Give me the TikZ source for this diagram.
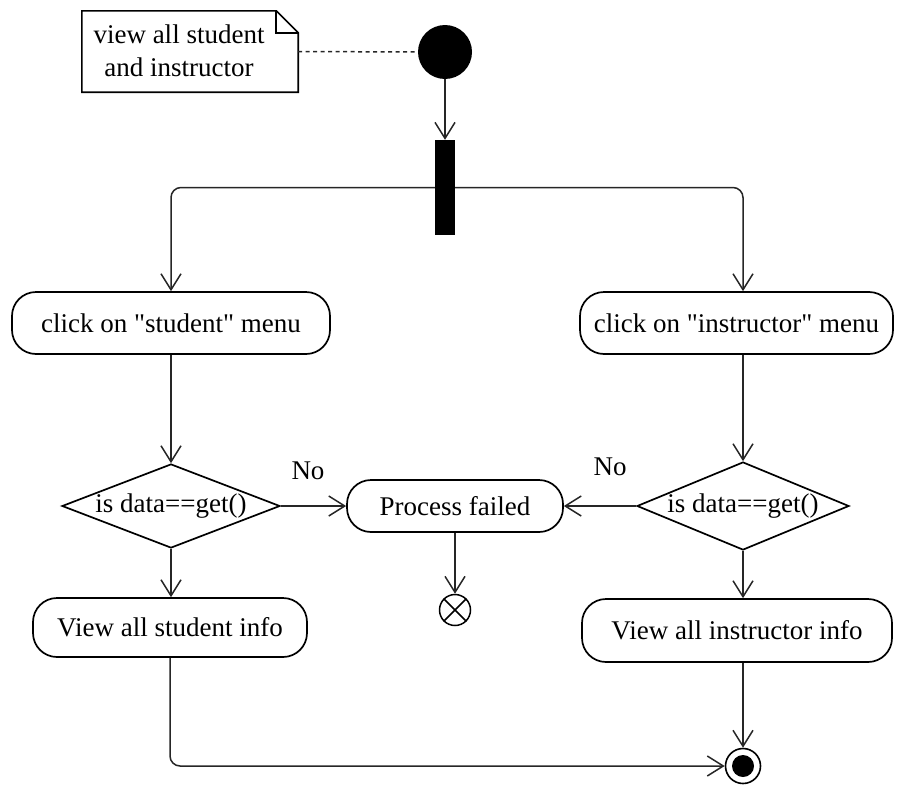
\documentclass[tikz,border=0pt]{standalone}
\usepackage{fontspec}
\setmainfont{Liberation Serif}[Ligatures=TeXOff]
\usetikzlibrary{arrows.meta,shapes.geometric}
\begin{document}
\begin{tikzpicture}[x=1pt,y=-1pt,
  every node/.style={font=\fontsize{27}{33}\selectfont, inner sep=0pt},
  act/.style={draw, line width=1.7pt, rounded corners=24pt},
  dec/.style={draw, diamond, line width=1.7pt},
  conn/.style={line width=1.5pt, draw=black!85, rounded corners=10pt,
    -{Straight Barb[length=16pt,width=20pt,line width=1.5pt]}},
  ]
\useasboundingbox (0,0) rectangle (899,787);
% note
\node[minimum width=216pt, minimum height=81pt] (note) at (190,51.5) {};
\draw[line width=1.6pt] (note.south west) -- (note.north west) -- ([xshift=-22pt]note.north east)
  -- ([yshift=-22pt]note.north east) -- (note.south east) -- cycle;
\draw[line width=1.6pt] ([xshift=-22pt]note.north east) -- ([xshift=-22pt,yshift=-22pt]note.north east)
  -- ([yshift=-22pt]note.north east);
\node[align=center] (notetext) at (179,51) {view all student\\and instructor};
% initial + fork
\node[circle, fill, minimum size=54pt] (init) at (445,52) {};
\draw[line width=1.5pt, draw=black!85, dash pattern=on 4pt off 3.5pt] (note.east) -- (init.west);
\node[fill, minimum width=20pt, minimum height=95pt] (fork) at (445,187.5) {};
% actions
\node[act, minimum width=318pt, minimum height=62pt] (sm) at (171,323) {click on "student" menu};
\node[act, minimum width=313pt, minimum height=62pt] (im) at (736.5,323) {click on "instructor" menu};
\node[dec, minimum width=218pt, minimum height=84pt] (d1) at (171,506) {\makebox[0pt]{is data==get()}};
\node[dec, minimum width=212pt, minimum height=88pt] (d2) at (743,506) {\makebox[0pt]{is data==get()}};
\node[act, minimum width=216pt, minimum height=52pt] (pf) at (455,506) {Process failed};
\node[act, minimum width=274pt, minimum height=59pt] (vs) at (170,627.5) {View all student info};
\node[act, minimum width=310pt, minimum height=63pt] (vi) at (737,630.5) {View all instructor info};
% flow final
\node[circle, draw, line width=1.5pt, minimum size=31pt] (ff) at (455,610) {};
\draw[line width=1.5pt] (ff.north east) -- (ff.south west) (ff.north west) -- (ff.south east);
% activity final
\node[circle, draw, line width=1.6pt, minimum size=35pt] (fin) at (743,766) {};
\fill (fin.center) circle (11pt);
% labels
\node (no1) at (308,471) {No};
\node (no2) at (610,467) {No};
% connectors
\draw[conn] (init.south) -- (fork.north);
\draw[conn] (fork.west) -| (sm.north);
\draw[conn] (fork.east) -| (im.north -| d2.north);
\draw[conn] (sm.south) -- (d1.north);
\draw[conn] (im.south -| d2.north) -- (d2.north);
\draw[conn] (d1.east) -- (pf.west);
\draw[conn] (d2.west) -- (pf.east);
\draw[conn] (pf.south) -- (ff.north);
\draw[conn] (d1.south) -- (vs.north -| d1.south);
\draw[conn] (d2.south) -- (vi.north -| d2.south);
\draw[conn] (vi.south -| fin.north) -- (fin.north);
\draw[conn] (vs.south) |- (fin.west);
\end{tikzpicture}
\end{document}
